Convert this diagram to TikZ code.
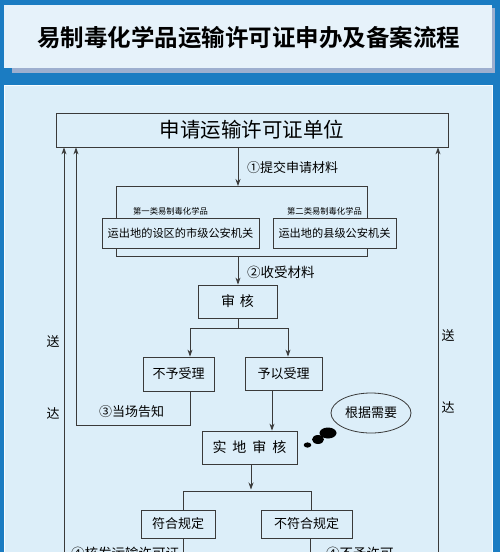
\documentclass[tikz,border=0pt]{standalone}
\usepackage{fontspec}
\setmainfont{Noto Sans CJK SC}[BoldFont={Noto Sans CJK SC Bold}]
\usetikzlibrary{arrows.meta,calc,shapes.geometric}
\definecolor{bgblue}{HTML}{1B7CC2}
\definecolor{titlefill}{HTML}{E6F2FA}
\definecolor{shadowc}{HTML}{9DAFCF}
\definecolor{panelfill}{HTML}{DCEEF9}
\definecolor{linec}{HTML}{3A3A3A}
\tikzset{
  boxn/.style={draw=linec, line width=0.8pt, fill=panelfill, inner sep=0pt, text=black},
  lbl/.style={inner sep=0pt, text=black, font=\fontsize{13}{13}\selectfont},
  conn/.style={draw=linec, line width=0.8pt},
  arr/.style={conn, -{Stealth[length=7pt,width=5pt]}},
}
\begin{document}
\begin{tikzpicture}[x=1pt,y=-1pt]
\useasboundingbox (0,0) rectangle (500,552);
\clip (0,0) rectangle (500,552);
\fill[bgblue] (0,0) rectangle (500,552);
% title panel
\fill[shadowc] (12,8) rectangle (495,73);
\fill[titlefill] (4,5) rectangle (492,68);
\node[inner sep=0pt, font=\fontsize{23.5}{24}\selectfont\bfseries] (title) at (249,38) {易制毒化学品运输许可证申办及备案流程};
% main panel
\filldraw[fill=panelfill, draw=white!80!panelfill, line width=1pt] (4,85) rectangle (492,570);

% top box
\node[boxn, minimum width=392pt, minimum height=34pt, font=\fontsize{20.5}{21}\selectfont] (apply) at (252,130) {申请运输许可证单位};

% bracket behind the two offices
\coordinate (bt) at (238,186);
\coordinate (bb) at (238,256);
\draw[conn] (116,186) rectangle (367,256);
\node[lbl, font=\fontsize{8.3}{9}\selectfont] (lab1) at (170.5,211) {第一类易制毒化学品};
\node[lbl, font=\fontsize{8.3}{9}\selectfont] (lab2) at (324.5,211) {第二类易制毒化学品};
\node[boxn, minimum width=157pt, minimum height=30pt, font=\fontsize{11.2}{12}\selectfont] (b1) at (180.5,233) {运出地的设区的市级公安机关};
\node[boxn, minimum width=123pt, minimum height=30pt, font=\fontsize{11.2}{12}\selectfont] (b2) at (334.5,233) {运出地的县级公安机关};

\draw[arr] (apply.south -| bt) -- (bt);
\node[lbl, anchor=west] (s1) at (247,168) {①提交申请材料};

% audit
\node[boxn, minimum width=79pt, minimum height=33pt, font=\fontsize{14}{14}\selectfont] (audit) at (237.5,301.5) {审\hspace{5pt}核};
\draw[arr] (bb) -- (audit.north -| bb);
\node[lbl, anchor=west, font=\fontsize{13.5}{14}\selectfont] (s2) at (247,272) {②收受材料};

\node[boxn, minimum width=71pt, minimum height=34pt, font=\fontsize{13}{13}\selectfont] (reject) at (178.5,374) {不予受理};
\node[boxn, minimum width=77pt, minimum height=33pt, font=\fontsize{13}{13}\selectfont] (accept) at (283.5,373.5) {予以受理};

\coordinate (sp) at (238,328);
\coordinate (rj) at (190,328);
\coordinate (ac) at (288,328);
\draw[conn] (audit.south -| sp) -- (sp);
\draw[conn] (rj) -- (ac);
\draw[arr] (rj) -- (reject.north -| rj);
\draw[arr] (ac) -- (accept.north -| ac);

% on-the-spot notice back
\coordinate (nt) at (190,425);
\coordinate (nl) at (76,425);
\draw[arr] (reject.south -| nt) -- (nt) -- (nl) -- (apply.south -| nl);
\node[lbl, anchor=west] (s3) at (99,412) {③当场告知};

% site audit
\node[boxn, minimum width=95pt, minimum height=33pt, font=\fontsize{14}{14}\selectfont] (site) at (249.5,447.5) {实\hspace{6pt}地\hspace{6pt}审\hspace{6pt}核};
\coordinate (sa) at (272,400);
\draw[arr] (accept.south -| sa) -- (site.north -| sa);

% thought bubble
\node[boxn, ellipse, minimum width=80pt, minimum height=40pt, font=\fontsize{13}{13}\selectfont] (need) at (371,413) {根据需要};
\fill[black] (328,433) ellipse (8.5pt and 5.5pt);
\fill[black] (318,439.5) ellipse (6pt and 4.5pt);
\fill[black] (307.5,445) ellipse (3.8pt and 2.6pt);

% result split
\coordinate (rs) at (251,491);
\coordinate (okc) at (183,491);
\coordinate (noc) at (311,491);
\draw[arr] (site.south -| rs) -- ($(rs)+(0,-1.5)$);
\draw[conn] (okc) -- (noc);
\node[boxn, minimum width=74pt, minimum height=28pt, font=\fontsize{13}{13}\selectfont] (ok) at (178,524) {符合规定};
\node[boxn, minimum width=91pt, minimum height=28pt, font=\fontsize{13}{13}\selectfont] (notok) at (306.5,524) {不符合规定};
\draw[conn] (okc) -- (ok.north -| okc);
\draw[conn] (noc) -- (notok.north -| noc);

\coordinate (okb) at (183,570);
\coordinate (nob) at (310,570);
\draw[conn] (ok.south -| okb) -- (okb);
\draw[conn] (notok.south -| nob) -- (nob);
\node[lbl, anchor=west, font=\fontsize{13.5}{14}\selectfont] (s4a) at (71,553) {④核发运输许可证};
\node[lbl, anchor=west, font=\fontsize{13.5}{14}\selectfont] (s4b) at (326,553) {④不予许可};

% delivery lines
\coordinate (lo) at (64,570);
\coordinate (ro) at (438,570);
\draw[arr] (lo) -- (apply.south -| lo);
\draw[arr] (ro) -- (apply.south -| ro);
\node[lbl] (l1) at (53,342) {送};
\node[lbl] (l2) at (53,413) {达};
\node[lbl] (r1) at (448,336) {送};
\node[lbl] (r2) at (448,407) {达};
\end{tikzpicture}
\end{document}
